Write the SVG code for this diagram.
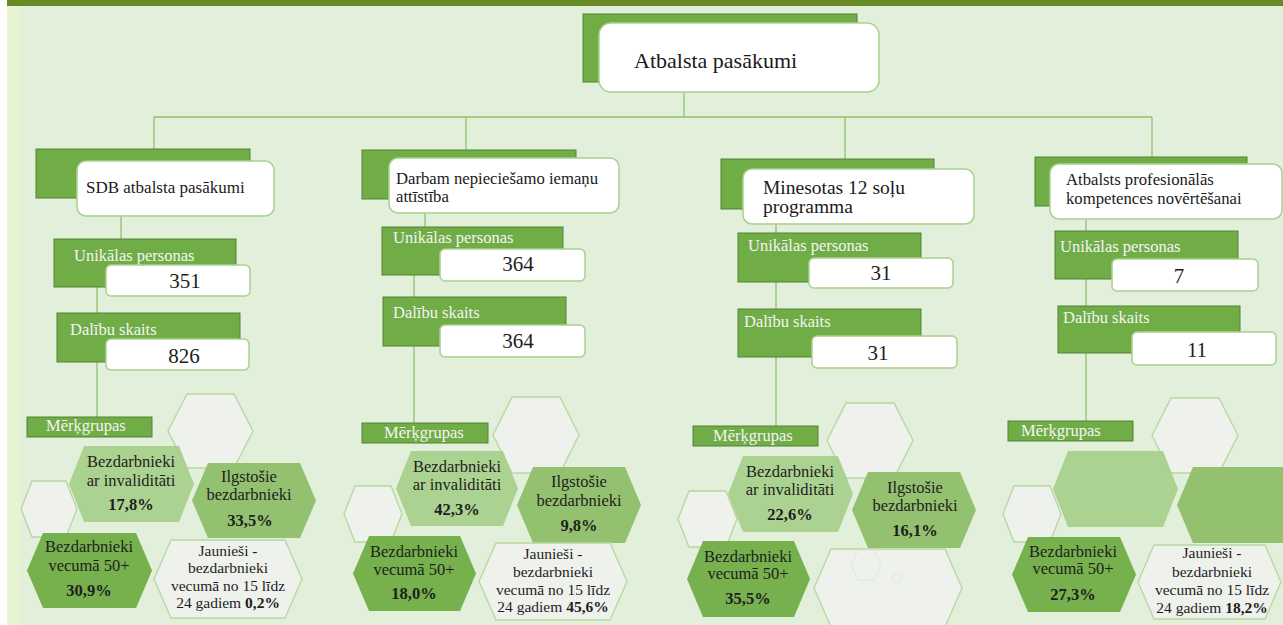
<svg xmlns="http://www.w3.org/2000/svg" width="1283" height="625" viewBox="0 0 1283 625">
<style>
text{font-family:"Liberation Serif","Times New Roman",serif}
.gbox{fill:#70ad47;stroke:#548235;stroke-width:1}
.wbox{fill:#ffffff;stroke:#a9d18e;stroke-width:1.5}
.lbl{font-size:16.5px;fill:#f4f4f4}
.num{font-size:21px;fill:#1e1e1e;text-anchor:middle}
.ttl{font-size:17px;fill:#1a1a1a}
.ttl2{font-size:16.7px;fill:#1a1a1a}
.ttl3{font-size:19.5px;fill:#1a1a1a}
.ht{font-size:16.5px;fill:#1e1e1e;text-anchor:middle}
.jt{font-size:15.5px;fill:#1e1e1e;text-anchor:middle}
.b{font-weight:bold}
.conn{stroke:#8dc26c;stroke-width:1.3;fill:none}
.pale{fill:#eff1ed;stroke:#b5d89c;stroke-width:1.3}
.faint{fill:none;stroke:#dfe8d8;stroke-width:1}
.hl{fill:#a9d08e;fill-opacity:0.95}
.hm{fill:#8fbe6a;fill-opacity:0.95}
.hd{fill:#70ad47;fill-opacity:0.95}
</style>
<rect x="0" y="0" width="1283" height="625" fill="#e2efda"/>
<rect x="0" y="0" width="7" height="625" fill="#ffffff"/>
<rect x="7" y="0" width="14" height="625" fill="#e8f3d3"/>
<rect x="7" y="0" width="1276" height="6" fill="#678a25"/>

<g id="connectors">
<path class="conn" d="M684 92V117M154 117H1152M154 117V149M466 117V150M845 117V159M1152 117V157"/>
<path class="conn" d="M121 216V239M97 287V417"/>
<path class="conn" d="M425 213V227M414 275V423"/>
<path class="conn" d="M776 224V426"/>
<path class="conn" d="M1086 219V421"/>
</g>

<g id="root">
<rect class="gbox" x="583" y="14" width="274" height="68"/>
<rect class="wbox" x="599" y="23" width="280" height="69" rx="12"/>
<text x="634" y="68" font-size="22px" fill="#1a1a1a">Atbalsta pasākumi</text>
</g>

<g id="sdb">
<rect class="gbox" x="36" y="149" width="214" height="49"/>
<rect class="wbox" x="77" y="161" width="197" height="55" rx="9"/>
<text class="ttl" x="86" y="193">SDB atbalsta pasākumi</text>
</g>
<g id="sdb-unik">
<rect class="gbox" x="54" y="239" width="182" height="48"/>
<text class="lbl" x="74" y="261">Unikālas personas</text>
<rect class="wbox" x="106" y="265" width="144" height="31" rx="5"/>
<text class="num" x="185" y="288">351</text>
</g>
<g id="sdb-dal">
<rect class="gbox" x="57" y="313" width="183" height="49"/>
<text class="lbl" x="70" y="335">Dalību skaits</text>
<rect class="wbox" x="106" y="339" width="143" height="31" rx="5"/>
<text class="num" x="184" y="363">826</text>
</g>
<g id="sdb-merk">
<rect class="gbox" x="27" y="417" width="125" height="20"/>
<text class="lbl" x="46" y="431">Mērķgrupas</text>
</g>
<g id="sdb-hex">
<polygon class="pale" points="168,431 187,394 234,394 253,431 234,468 187,468"/>
<polygon class="pale" points="21,509 32,481 66,481 77,509 66,537 32,537"/>
<polygon class="hl" points="69,484 84,446 179,446 194,484 179,522 84,522"/>
<polygon class="hm" points="192,500.5 208,463 300,463 316,500.5 300,538 208,538"/>
<polygon class="hd" points="27,570.5 43,533 136,533 152,570.5 136,608 43,608"/>
<polygon class="pale" points="154,579 171,540 285,540 302,579 285,618 171,618"/>
<text class="ht" x="131" y="467">Bezdarbnieki</text>
<text class="ht" x="131" y="486">ar invaliditāti</text>
<text class="ht b" x="131" y="510">17,8%</text>
<text class="ht" x="249" y="482">Ilgstošie</text>
<text class="ht" x="249" y="500">bezdarbnieki</text>
<text class="ht b" x="250" y="526">33,5%</text>
<text class="ht" x="89" y="552">Bezdarbnieki</text>
<text class="ht" x="89" y="571">vecumā 50+</text>
<text class="ht b" x="89" y="596">30,9%</text>
<text class="jt" x="228" y="556">Jaunieši -</text>
<text class="jt" x="228" y="573">bezdarbnieki</text>
<text class="jt" x="228" y="590.5">vecumā no 15 līdz</text>
<text class="jt" x="228" y="608">24 gadiem <tspan class="b">0,2%</tspan></text>
</g>

<g id="darbam">
<rect class="gbox" x="362" y="150" width="214" height="49"/>
<rect class="wbox" x="389" y="158" width="230" height="55" rx="9"/>
<text class="ttl2" x="396" y="184">Darbam nepieciešamo iemaņu</text>
<text class="ttl2" x="396" y="202">attīstība</text>
</g>
<g id="darbam-unik">
<rect class="gbox" x="382" y="227" width="181" height="48"/>
<text class="lbl" x="393" y="243">Unikālas personas</text>
<rect class="wbox" x="440" y="249" width="145" height="32" rx="5"/>
<text class="num" x="518" y="271">364</text>
</g>
<g id="darbam-dal">
<rect class="gbox" x="383" y="297" width="183" height="49"/>
<text class="lbl" x="393" y="318">Dalību skaits</text>
<rect class="wbox" x="440" y="325" width="145" height="32" rx="5"/>
<text class="num" x="518" y="348">364</text>
</g>
<g id="darbam-merk">
<rect class="gbox" x="362" y="423" width="126" height="20"/>
<text class="lbl" x="384" y="438">Mērķgrupas</text>
</g>
<g id="darbam-hex">
<polygon class="pale" points="493,435 512,397 560,397 579,435 560,473 512,473"/>
<polygon class="pale" points="344,514 355,486 391,486 402,514 391,542 355,542"/>
<polygon class="hl" points="396,488.5 411,451 503,451 518,488.5 503,526 411,526"/>
<polygon class="hm" points="517,505 533,467 625,467 641,505 625,543 533,543"/>
<polygon class="hd" points="353,573.5 369,536 460,536 476,573.5 460,611 369,611"/>
<polygon class="pale" points="479,581.5 496,543 610,543 627,581.5 610,620 496,620"/>
<text class="ht" x="457" y="472">Bezdarbnieki</text>
<text class="ht" x="457" y="490">ar invaliditāti</text>
<text class="ht b" x="457" y="515">42,3%</text>
<text class="ht" x="579" y="487">Ilgstošie</text>
<text class="ht" x="579" y="506">bezdarbnieki</text>
<text class="ht b" x="579" y="531">9,8%</text>
<text class="ht" x="414" y="557">Bezdarbnieki</text>
<text class="ht" x="414" y="575">vecumā 50+</text>
<text class="ht b" x="414" y="599">18,0%</text>
<text class="jt" x="553" y="559">Jaunieši -</text>
<text class="jt" x="553" y="577">bezdarbnieki</text>
<text class="jt" x="553" y="594.5">vecumā no 15 līdz</text>
<text class="jt" x="553" y="612">24 gadiem <tspan class="b">45,6%</tspan></text>
</g>

<g id="minesotas">
<rect class="gbox" x="721" y="159" width="213" height="50"/>
<rect class="wbox" x="743" y="169" width="231" height="55" rx="9"/>
<text class="ttl3" x="763" y="194">Minesotas 12 soļu</text>
<text class="ttl3" x="763" y="213">programma</text>
</g>
<g id="minesotas-unik">
<rect class="gbox" x="738" y="233" width="183" height="49"/>
<text class="lbl" x="748" y="251">Unikālas personas</text>
<rect class="wbox" x="809" y="258" width="144" height="30" rx="5"/>
<text class="num" x="881" y="280">31</text>
</g>
<g id="minesotas-dal">
<rect class="gbox" x="738" y="309" width="183" height="48"/>
<text class="lbl" x="744" y="327">Dalību skaits</text>
<rect class="wbox" x="812" y="336" width="145" height="32" rx="5"/>
<text class="num" x="878" y="360">31</text>
</g>
<g id="minesotas-merk">
<rect class="gbox" x="693" y="426" width="125" height="20"/>
<text class="lbl" x="713" y="441">Mērķgrupas</text>
</g>
<g id="minesotas-hex">
<polygon class="pale" points="827,440.5 846,403 894,403 913,440.5 894,478 846,478"/>
<polygon class="pale" points="678,519 689,491 726,491 737,519 726,547 689,547"/>
<polygon class="hl" points="728,494 743,456 838,456 853,494 838,532 743,532"/>
<polygon class="hm" points="852,510 868,472 960,472 976,510 960,548 868,548"/>
<polygon class="hd" points="687,579 703,541 794,541 810,579 794,617 703,617"/>
<polygon class="pale" points="814,588 831,549 945,549 962,588 945,627 831,627"/>
<polygon class="faint" points="851,565 858,550 874,550 881,565 874,580 858,580"/>
<polygon class="faint" points="892,577.5 894.5,573 899.5,573 902,577.5 899.5,582 894.5,582"/>
<text class="ht" x="790" y="477">Bezdarbnieki</text>
<text class="ht" x="790" y="495">ar invaliditāti</text>
<text class="ht b" x="790" y="520">22,6%</text>
<text class="ht" x="915" y="493">Ilgstošie</text>
<text class="ht" x="915" y="511">bezdarbnieki</text>
<text class="ht b" x="915" y="536">16,1%</text>
<text class="ht" x="748" y="562">Bezdarbnieki</text>
<text class="ht" x="748" y="579">vecumā 50+</text>
<text class="ht b" x="748" y="604">35,5%</text>
</g>

<g id="profesionalas">
<rect class="gbox" x="1035" y="157" width="212" height="49"/>
<rect class="wbox" x="1050" y="164" width="232" height="55" rx="9"/>
<text class="ttl2" x="1066" y="185">Atbalsts profesionālās</text>
<text class="ttl2" x="1066" y="204">kompetences novērtēšanai</text>
</g>
<g id="profesionalas-unik">
<rect class="gbox" x="1055" y="231" width="183" height="48"/>
<text class="lbl" x="1060" y="252">Unikālas personas</text>
<rect class="wbox" x="1112" y="259" width="146" height="32" rx="5"/>
<text class="num" x="1179" y="283">7</text>
</g>
<g id="profesionalas-dal">
<rect class="gbox" x="1058" y="306" width="182" height="47"/>
<text class="lbl" x="1063" y="323">Dalību skaits</text>
<rect class="wbox" x="1132" y="332" width="144" height="33" rx="5"/>
<text class="num" x="1197" y="357">11</text>
</g>
<g id="profesionalas-merk">
<rect class="gbox" x="1008" y="421" width="125" height="20"/>
<text class="lbl" x="1021" y="436">Mērķgrupas</text>
</g>
<g id="profesionalas-hex">
<polygon class="pale" points="1152,435.5 1171,398 1219,398 1238,435.5 1219,473 1171,473"/>
<polygon class="pale" points="1003,514 1014,486 1050,486 1061,514 1050,542 1014,542"/>
<polygon class="hl" points="1053,489 1068,451 1163,451 1178,489 1163,527 1068,527"/>
<polygon class="hm" points="1177,505 1193,467 1285,467 1301,505 1285,543 1193,543"/>
<polygon class="hd" points="1012,574.5 1028,537 1120,537 1136,574.5 1120,612 1028,612"/>
<polygon class="pale" points="1138,582 1154,545 1265,545 1281,582 1265,619 1154,619"/>
<text class="ht" x="1073" y="557">Bezdarbnieki</text>
<text class="ht" x="1073" y="574">vecumā 50+</text>
<text class="ht b" x="1073" y="600">27,3%</text>
<text class="jt" x="1212" y="558">Jaunieši -</text>
<text class="jt" x="1212" y="577">bezdarbnieki</text>
<text class="jt" x="1212" y="594.5">vecumā no 15 līdz</text>
<text class="jt" x="1212" y="613">24 gadiem <tspan class="b">18,2%</tspan></text>
</g>
</svg>
